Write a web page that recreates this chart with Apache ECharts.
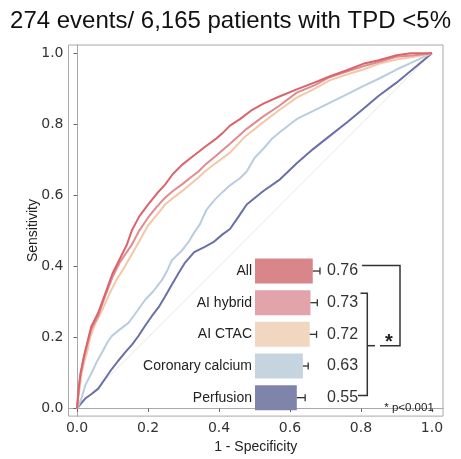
<!DOCTYPE html>
<html>
<head>
<meta charset="utf-8">
<script src="https://cdn.jsdelivr.net/npm/echarts@6/dist/echarts.min.js"></script>
<style>html,body{margin:0;padding:0;background:#fff}#c{width:461px;height:459px}</style>
</head>
<body>
<div id="c"></div>
<script>
// ---- data ----
const titleText = '274 events/ 6,165 patients with TPD <5%';
const tickValues = [0, 0.2, 0.4, 0.6, 0.8, 1.0];
const seriesNames = ['All', 'AI hybrid', 'AI CTAC', 'Coronary calcium', 'Perfusion'];
const aucValues = [0.76, 0.73, 0.72, 0.63, 0.55];
const ciUpper = [0.855, 0.82, 0.81, 0.70, 0.66];
const diagonal = [[0, 0], [1, 1]];

const rocAll = [[0,0],[0.005,0.06],[0.01,0.1],[0.02,0.15],[0.03,0.19],[0.04,0.23],[0.06,0.27],[0.08,0.325],[0.1,0.38],[0.12,0.42],[0.14,0.46],[0.154,0.5],[0.175,0.54],[0.2,0.574],[0.225,0.605],[0.248,0.63],[0.27,0.66],[0.295,0.685],[0.32,0.705],[0.342,0.722],[0.36,0.736],[0.39,0.758],[0.41,0.775],[0.431,0.796],[0.46,0.815],[0.49,0.838],[0.525,0.858],[0.57,0.878],[0.619,0.898],[0.67,0.918],[0.713,0.935],[0.76,0.952],[0.806,0.97],[0.85,0.98],[0.9,0.994],[0.94,1.0],[1,1]];
const rocHybrid = [[0,0],[0.005,0.055],[0.01,0.095],[0.02,0.145],[0.03,0.185],[0.04,0.222],[0.06,0.262],[0.08,0.318],[0.1,0.37],[0.12,0.41],[0.14,0.44],[0.155,0.462],[0.175,0.5],[0.2,0.537],[0.225,0.568],[0.248,0.593],[0.27,0.612],[0.295,0.63],[0.32,0.65],[0.342,0.667],[0.36,0.685],[0.39,0.71],[0.431,0.745],[0.478,0.787],[0.525,0.822],[0.57,0.852],[0.619,0.889],[0.67,0.91],[0.713,0.933],[0.76,0.948],[0.806,0.963],[0.85,0.975],[0.9,0.99],[0.95,0.994],[1,1]];
const rocCtac = [[0,0],[0.005,0.04],[0.013,0.1],[0.02,0.13],[0.03,0.165],[0.037,0.2],[0.05,0.235],[0.07,0.275],[0.09,0.32],[0.11,0.36],[0.135,0.4],[0.155,0.435],[0.175,0.47],[0.2,0.515],[0.225,0.545],[0.248,0.574],[0.27,0.592],[0.295,0.611],[0.32,0.632],[0.342,0.65],[0.36,0.667],[0.39,0.69],[0.431,0.72],[0.473,0.765],[0.525,0.806],[0.57,0.84],[0.619,0.875],[0.67,0.9],[0.713,0.924],[0.76,0.94],[0.806,0.954],[0.85,0.97],[0.9,0.982],[0.95,0.99],[1,1]];
const rocCalcium = [[0,0],[0.005,0.01],[0.013,0.03],[0.023,0.065],[0.041,0.1],[0.055,0.13],[0.07,0.157],[0.085,0.185],[0.098,0.204],[0.12,0.222],[0.145,0.241],[0.17,0.275],[0.192,0.306],[0.215,0.33],[0.239,0.361],[0.255,0.39],[0.267,0.417],[0.295,0.444],[0.315,0.47],[0.33,0.495],[0.346,0.518],[0.365,0.56],[0.39,0.59],[0.412,0.611],[0.431,0.628],[0.459,0.648],[0.478,0.667],[0.5,0.705],[0.525,0.731],[0.55,0.76],[0.572,0.778],[0.6,0.8],[0.62,0.815],[0.66,0.835],[0.713,0.861],[0.76,0.884],[0.806,0.907],[0.85,0.928],[0.9,0.954],[0.95,0.977],[1,1]];
const rocPerfusion = [[0,0],[0.004,0.003],[0.012,0.015],[0.023,0.028],[0.04,0.04],[0.06,0.056],[0.08,0.085],[0.098,0.111],[0.115,0.133],[0.135,0.157],[0.155,0.18],[0.173,0.204],[0.19,0.23],[0.21,0.259],[0.23,0.285],[0.248,0.315],[0.265,0.345],[0.285,0.379],[0.304,0.41],[0.33,0.44],[0.36,0.455],[0.384,0.468],[0.41,0.49],[0.431,0.505],[0.455,0.54],[0.478,0.574],[0.525,0.612],[0.572,0.645],[0.619,0.69],[0.665,0.73],[0.713,0.768],[0.76,0.805],[0.806,0.843],[0.85,0.88],[0.9,0.917],[0.95,0.958],[1,1]];

// ---- styles ----
const lineColors = ['#d9646c', '#e08a93', '#f2c8a6', '#b9cddf', '#6a6fa8'];
const barColors = ['#d9868b', '#e2a3ab', '#f1d6c0', '#c6d4df', '#7f84aa'];
const F = '"Liberation Sans", Arial, sans-serif';
const FT = '"DejaVu Sans", sans-serif';

const chart = echarts.init(document.getElementById('c'), null, {renderer: 'canvas'});

function rocSeries(name, data, color, z) {
  return {type: 'line', name, data, xAxisIndex: 0, yAxisIndex: 0, showSymbol: false, symbol: 'none',
    lineStyle: {color, width: 2}, z, silent: true, animation: false};
}

const option = {
  animation: false,
  title: {text: titleText, left: 'center', top: 4, textStyle: {fontFamily: F, fontSize: 24, fontWeight: 'normal', color: '#111'}},
  grid: [
    {left: 68.5, right: 18, top: 45, bottom: 38, show: true, borderColor: '#a8a8a8', borderWidth: 1, backgroundColor: 'transparent'},
    {left: 255, width: 76, top: 255.2, height: 158.3}
  ],
  xAxis: [
    {type: 'value', gridIndex: 0, min: -0.024, max: 1.031,
      name: '1 - Specificity', nameLocation: 'middle', nameGap: 17,
      nameTextStyle: {fontFamily: F, fontSize: 14, color: '#222'},
      axisLine: {show: true, lineStyle: {color: '#a8a8a8'}},
      axisTick: {show: true, length: 3.5, lineStyle: {color: '#666'}, customValues: tickValues},
      axisLabel: {fontFamily: FT, fontSize: 14, color: '#333', margin: 5, customValues: tickValues, formatter: v => v.toFixed(1)},
      splitLine: {show: false}},
    {type: 'value', gridIndex: 1, min: 0, max: 1, show: false}
  ],
  yAxis: [
    {type: 'value', gridIndex: 0, min: -0.0214, max: 1.023,
      name: 'Sensitivity', nameLocation: 'middle', nameGap: 28, nameMoveOverlap: false,
      nameTextStyle: {fontFamily: F, fontSize: 14, color: '#222'},
      axisLine: {show: true, lineStyle: {color: '#a8a8a8'}},
      axisTick: {show: true, length: 3.5, lineStyle: {color: '#666'}, customValues: tickValues},
      axisLabel: {fontFamily: FT, fontSize: 14, color: '#333', margin: 5, customValues: tickValues, formatter: v => v.toFixed(1)},
      splitLine: {show: false}},
    {type: 'category', gridIndex: 1, data: seriesNames, inverse: true,
      axisLine: {show: false}, axisTick: {show: false},
      axisLabel: {fontFamily: F, fontSize: 14, color: '#222', margin: 3}}
  ],
  series: [
    {type: 'line', data: diagonal, xAxisIndex: 0, yAxisIndex: 0, symbol: 'none', lineStyle: {color: '#e6e6e6', width: 1}, z: 1, silent: true},
    rocSeries('Perfusion', rocPerfusion, lineColors[4], 2),
    rocSeries('Coronary calcium', rocCalcium, lineColors[3], 3),
    rocSeries('AI CTAC', rocCtac, lineColors[2], 4),
    rocSeries('AI hybrid', rocHybrid, lineColors[1], 5),
    rocSeries('All', rocAll, lineColors[0], 6),
    {type: 'bar', xAxisIndex: 1, yAxisIndex: 1, barWidth: 25, z: 10,
      data: aucValues.map((v, i) => ({value: v, itemStyle: {color: barColors[i]}}))},
    {type: 'custom', xAxisIndex: 1, yAxisIndex: 1, z: 11,
      data: aucValues.map((v, i) => [i, ciUpper[i], v]),
      encode: {x: [1, 2], y: 0},
      renderItem: function (params, api) {
        const i = api.value(0), hi = api.value(1), v = api.value(2);
        const p0 = api.coord([v, i]);
        const p1 = api.coord([hi, i]);
        const base = api.coord([0, i]);
        return {type: 'group', children: [
          {type: 'line', shape: {x1: p0[0], y1: p0[1], x2: p1[0], y2: p1[1]}, style: {stroke: '#333', lineWidth: 1.3}},
          {type: 'line', shape: {x1: p1[0], y1: p1[1] - 3.5, x2: p1[0], y2: p1[1] + 3.5}, style: {stroke: '#333', lineWidth: 1.3}},
          {type: 'text', x: base[0] + 72, y: p0[1], style: {text: v.toFixed(2), font: '16px ' + F, fill: '#333', verticalAlign: 'middle', align: 'left'}}
        ]};
      }}
  ],
  graphic: [
    {type: 'polyline', shape: {points: [[362, 265.5], [400, 265.5], [400, 345.7], [380, 345.7]]}, style: {stroke: '#333', lineWidth: 1.5, fill: null}, z: 20},
    {type: 'polyline', shape: {points: [[360.5, 293.3], [367.3, 293.3], [367.3, 395.5], [358, 395.5]]}, style: {stroke: '#333', lineWidth: 1.5, fill: null}, z: 20},
    {type: 'line', shape: {x1: 367.3, y1: 345.7, x2: 375, y2: 345.7}, style: {stroke: '#333', lineWidth: 1.5}, z: 20},
    {type: 'text', x: 389, y: 342, style: {text: '*', font: 'bold 20px ' + F, fill: '#222', align: 'center', verticalAlign: 'middle'}, z: 20},
    {type: 'text', x: 409, y: 408, style: {text: '* p<0.001', font: '11.5px ' + F, fill: '#222', align: 'center', verticalAlign: 'middle'}, z: 20}
  ]
};
chart.setOption(option);
</script>
</body>
</html>
